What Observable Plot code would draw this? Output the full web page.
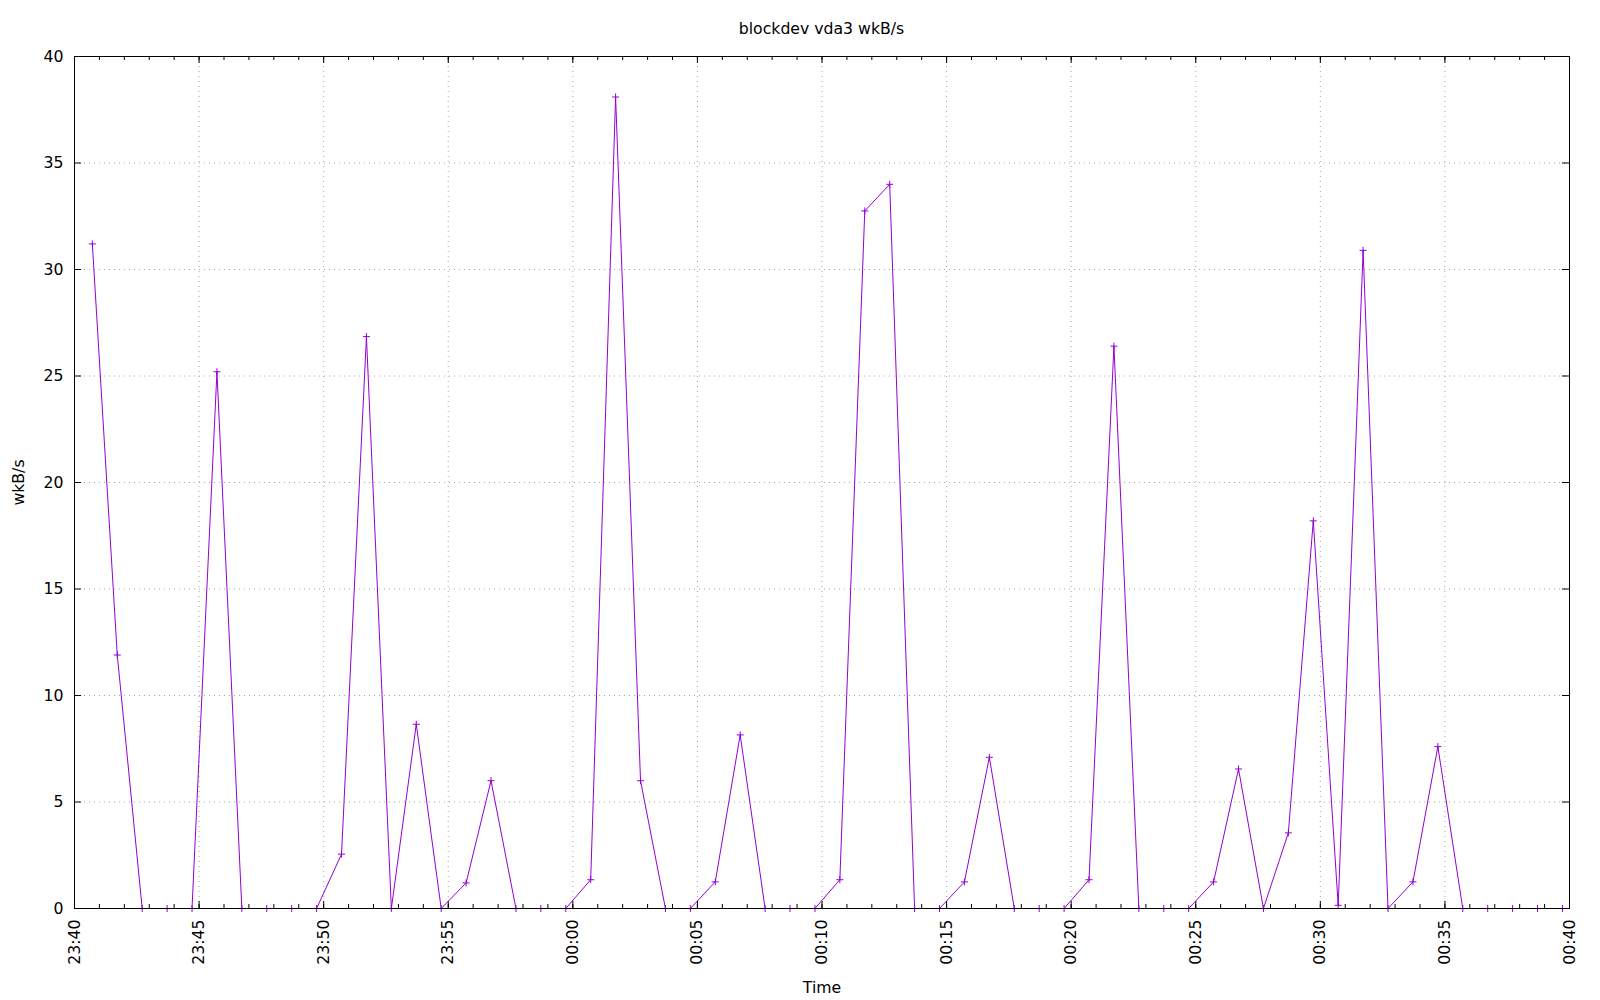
<!DOCTYPE html>
<html><head><meta charset="utf-8">
<script src="https://cdn.jsdelivr.net/npm/d3@7"></script>
<script src="https://cdn.jsdelivr.net/npm/@observablehq/plot@0.6"></script>
<style>
body{margin:0;background:#fff;font-family:"DejaVu Sans",sans-serif;}
#title{height:40px;box-sizing:border-box;padding-top:21px;padding-left:74px;width:1569px;text-align:center;font-size:15.7px;line-height:15px;color:#000;white-space:nowrap;}
</style></head><body>
<div id="title">blockdev vda3 wkB/s</div>
<div id="chart"></div>
<script>
// Sample timestamps (HH:MM:SS), one per minute
const times = [
"23:40:43","23:41:43","23:42:43","23:43:43","23:44:43","23:45:43","23:46:43","23:47:43","23:48:43","23:49:43",
"23:50:43","23:51:43","23:52:43","23:53:43","23:54:43","23:55:43","23:56:43","23:57:43","23:58:43","23:59:43",
"00:00:43","00:01:43","00:02:43","00:03:43","00:04:43","00:05:43","00:06:43","00:07:43","00:08:43","00:09:43",
"00:10:43","00:11:43","00:12:43","00:13:43","00:14:43","00:15:43","00:16:43","00:17:43","00:18:43","00:19:43",
"00:20:43","00:21:43","00:22:43","00:23:43","00:24:43","00:25:43","00:26:43","00:27:43","00:28:43","00:29:43",
"00:30:43","00:31:43","00:32:43","00:33:43","00:34:43","00:35:43","00:36:43","00:37:43","00:38:43","00:39:43"
];
// wkB/s values
const wkBs = [
31.2, 11.9, 0, 0, 0, 25.2, 0, 0, 0, 0,
2.55, 26.85, 0, 8.65, 0, 1.2, 6.0, 0, 0, 0,
1.35, 38.1, 6.0, 0, 0, 1.25, 8.15, 0, 0, 0,
1.35, 32.75, 34.0, 0, 0, 1.25, 7.1, 0, 0, 0,
1.35, 26.4, 0, 0, 0, 1.25, 6.55, 0, 3.55, 18.2,
0.15, 30.9, 0, 1.25, 7.6, 0, 0, 0, 0, 0
];
const yTicks = [0, 5, 10, 15, 20, 25, 30, 35, 40];
const xTickLabels = ["23:40","23:45","23:50","23:55","00:00","00:05","00:10","00:15","00:20","00:25","00:30","00:35","00:40"];
const xDomain = ["23:40", "00:40"];
const titleText = "blockdev vda3 wkB/s";
const xLabel = "Time";
const yLabel = "wkB/s";

function toDate(s) {
  const [h, m, sec] = s.split(":").map(Number);
  const day = h >= 12 ? 1 : 2;
  return new Date(Date.UTC(2024, 0, day, h, m, sec || 0));
}
const data = times.map((t, i) => ({time: toDate(t), value: wkBs[i]}));
const xMajor = xTickLabels.map(toDate);
const domainX = xDomain.map(toDate);
const xMinor = d3.utcMinute.range(domainX[0], new Date(+domainX[1] + 1));

const W = 1600, H = 960, mT = 16, mB = 92, mL = 74, mR = 31;
const plotW = W - mL - mR, plotH = H - mT - mB;
const purple = "#9400d3";
const gridStyle = {stroke: "#a8a8a8", strokeOpacity: 1, strokeDasharray: "1,4", strokeWidth: 1};

const plusSymbol = {
  draw(ctx, size) {
    const r = Math.sqrt(size / Math.PI);
    ctx.moveTo(-r, 0); ctx.lineTo(r, 0);
    ctx.moveTo(0, -r); ctx.lineTo(0, r);
  }
};

document.getElementById("title").textContent = titleText;

const chart = Plot.plot({
  width: W, height: H,
  marginTop: mT, marginBottom: mB, marginLeft: mL, marginRight: mR,
  style: {fontFamily: "DejaVu Sans", fontSize: "15.7px", color: "black", background: "white"},
  x: {type: "utc", domain: domainX},
  y: {domain: [0, 40]},
  marks: [
    Plot.gridX(xMajor, gridStyle),
    Plot.gridY(yTicks, gridStyle),
    Plot.tickX(xMajor, {x: d => d, insetTop: plotH - 7, stroke: "black"}),
    Plot.tickX(xMajor, {x: d => d, insetBottom: plotH - 7, stroke: "black"}),
    Plot.tickX(xMinor, {x: d => d, insetTop: plotH - 4, stroke: "black"}),
    Plot.tickX(xMinor, {x: d => d, insetBottom: plotH - 4, stroke: "black"}),
    Plot.tickY(yTicks, {y: d => d, insetRight: plotW - 7, stroke: "black"}),
    Plot.tickY(yTicks, {y: d => d, insetLeft: plotW - 7, stroke: "black"}),
    Plot.line(data, {x: "time", y: "value", stroke: purple, strokeWidth: 1}),
    Plot.dot(data, {x: "time", y: "value", symbol: plusSymbol, r: 3.5, stroke: purple, fill: "none", strokeWidth: 1}),
    Plot.frame({stroke: "black", strokeWidth: 1}),
    Plot.axisX(xMajor, {tickFormat: d3.utcFormat("%H:%M"), tickRotate: -90, tickSize: 0, tickPadding: 11, label: null}),
    Plot.axisY(yTicks, {tickSize: 0, tickPadding: 11, label: null}),
    Plot.text([xLabel], {frameAnchor: "bottom", dy: 79, lineAnchor: "middle", textAnchor: "middle", text: d => d, fill: "black"}),
    Plot.text([yLabel], {frameAnchor: "left", dx: -55.5, rotate: -90, lineAnchor: "middle", textAnchor: "middle", text: d => d, fill: "black"})
  ]
});
document.getElementById("chart").appendChild(chart);
</script>
</body></html>
